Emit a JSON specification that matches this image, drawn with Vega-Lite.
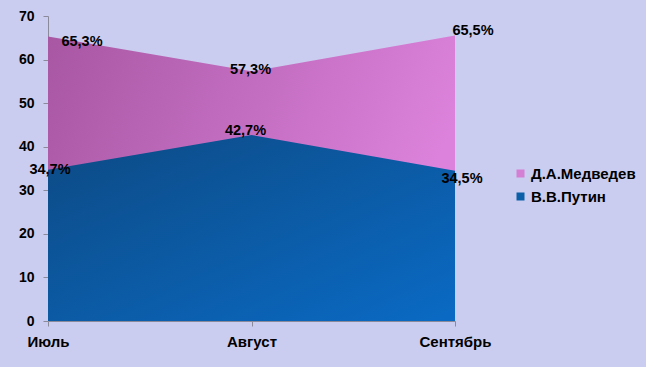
{
  "$schema": "https://vega.github.io/schema/vega-lite/v6.json",
  "autosize": {"type": "none"},
  "padding": {"left": 48, "top": 16, "right": 191, "bottom": 46},
  "width": 407,
  "height": 305,
  "background": "#cacdef",
  "config": {
    "view": {"stroke": null},
    "font": "Liberation Sans",
    "axis": {"grid": false, "domainColor": "#8a8a9a", "tickColor": "#8a8a9a", "tickSize": 5, "labelColor": "#000000", "labelFont": "Liberation Sans", "labelFontWeight": "bold", "title": null}
  },
  "data": {
    "values": [
      {"month": "Июль", "series": "Д.А.Медведев", "value": 65.3, "label": "65,3%"},
      {"month": "Август", "series": "Д.А.Медведев", "value": 57.3, "label": "57,3%"},
      {"month": "Сентябрь", "series": "Д.А.Медведев", "value": 65.5, "label": "65,5%"},
      {"month": "Июль", "series": "В.В.Путин", "value": 34.7, "label": "34,7%"},
      {"month": "Август", "series": "В.В.Путин", "value": 42.7, "label": "42,7%"},
      {"month": "Сентябрь", "series": "В.В.Путин", "value": 34.5, "label": "34,5%"}
    ]
  },
  "encoding": {
    "x": {"field": "month", "type": "ordinal", "sort": ["Июль", "Август", "Сентябрь"], "scale": {"type": "point", "padding": 0},
      "axis": {"labelAngle": 0, "labelFontSize": 15, "labelPadding": 8}},
    "y": {"field": "value", "type": "quantitative", "scale": {"domain": [0, 70]},
      "axis": {"values": [0, 10, 20, 30, 40, 50, 60, 70], "labelFontSize": 14, "labelPadding": 9}}
  },
  "layer": [
    {
      "transform": [{"filter": "datum.series === 'Д.А.Медведев'"}],
      "mark": {"type": "area", "fill": {"gradient": "linear", "x1": 0, "y1": 0, "x2": 1, "y2": 0.3, "stops": [{"offset": 0, "color": "#a857a3"}, {"offset": 1, "color": "#dc82dc"}]}}
    },
    {
      "transform": [{"filter": "datum.series === 'В.В.Путин'"}],
      "mark": {"type": "area", "fill": {"gradient": "linear", "x1": 0, "y1": 0, "x2": 1, "y2": 1, "stops": [{"offset": 0, "color": "#0d4a84"}, {"offset": 1, "color": "#0a6ac4"}]}}
    },
    {
      "mark": {"type": "point", "shape": "square", "filled": true, "opacity": 0},
      "encoding": {
        "color": {"field": "series", "type": "nominal", "sort": ["Д.А.Медведев", "В.В.Путин"],
          "scale": {"domain": ["Д.А.Медведев", "В.В.Путин"], "range": ["#d47fd4", "#0b5ea8"]},
          "legend": {"title": null, "orient": "none", "legendX": 465, "legendY": 150, "symbolType": "square", "symbolSize": 64, "symbolOpacity": 1, "labelFontSize": 15, "labelFontWeight": "bold", "labelFont": "Liberation Sans", "labelColor": "#000000", "rowPadding": 7, "labelOffset": 3}
        }
      }
    },
    {
      "transform": [{"filter": "datum.label === '65,3%'"}],
      "mark": {"type": "text", "fontSize": 14.5, "fontWeight": "bold", "dx": 34, "dy": 6, "color": "#000000"},
      "encoding": {"text": {"field": "label"}}
    },
    {
      "transform": [{"filter": "datum.label === '57,3%'"}],
      "mark": {"type": "text", "fontSize": 14.5, "fontWeight": "bold", "dx": -1, "dy": -1, "color": "#000000"},
      "encoding": {"text": {"field": "label"}}
    },
    {
      "transform": [{"filter": "datum.label === '65,5%'"}],
      "mark": {"type": "text", "fontSize": 14.5, "fontWeight": "bold", "dx": 18, "dy": -5, "color": "#000000"},
      "encoding": {"text": {"field": "label"}}
    },
    {
      "transform": [{"filter": "datum.label === '34,7%'"}],
      "mark": {"type": "text", "fontSize": 14.5, "fontWeight": "bold", "dx": 2, "dy": 0, "color": "#000000"},
      "encoding": {"text": {"field": "label"}}
    },
    {
      "transform": [{"filter": "datum.label === '42,7%'"}],
      "mark": {"type": "text", "fontSize": 14.5, "fontWeight": "bold", "dx": -6, "dy": -4, "color": "#000000"},
      "encoding": {"text": {"field": "label"}}
    },
    {
      "transform": [{"filter": "datum.label === '34,5%'"}],
      "mark": {"type": "text", "fontSize": 14.5, "fontWeight": "bold", "dx": 7, "dy": 8, "color": "#000000"},
      "encoding": {"text": {"field": "label"}}
    }
  ]
}
